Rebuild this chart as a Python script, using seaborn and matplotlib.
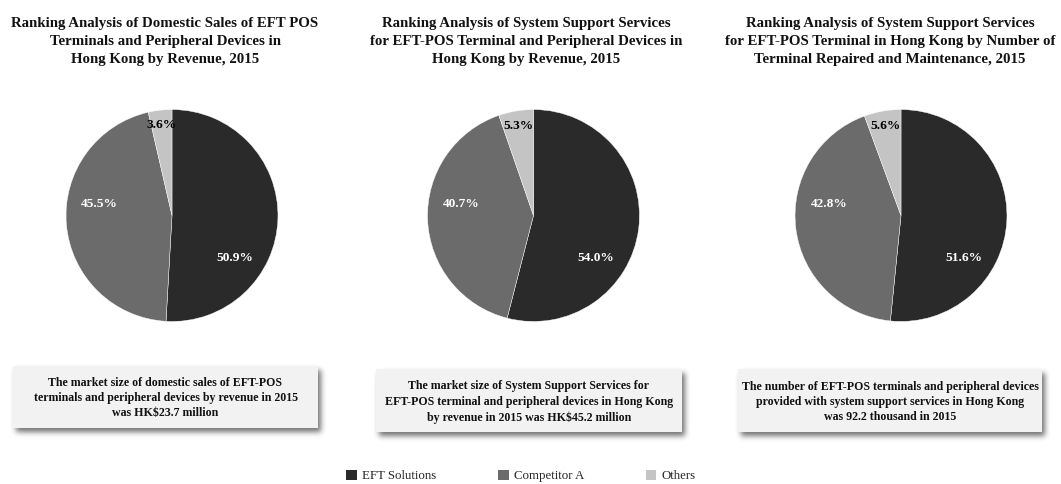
import numpy as np
import matplotlib
matplotlib.use('Agg')
import matplotlib.pyplot as plt
import seaborn as sns
from matplotlib.patches import Rectangle, Patch

# ---------------- data ----------------
categories = ['EFT Solutions', 'Competitor A', 'Others']
sales_revenue_share = [50.9, 45.5, 3.6]
support_revenue_share = [54.0, 40.7, 5.3]
support_units_share = [51.6, 42.8, 5.6]

titles = [
    'Ranking Analysis of Domestic Sales of EFT POS\nTerminals and Peripheral Devices in\nHong Kong by Revenue, 2015',
    'Ranking Analysis of System Support Services\nfor EFT-POS Terminal and Peripheral Devices in\nHong Kong by Revenue, 2015',
    'Ranking Analysis of System Support Services\nfor EFT-POS Terminal in Hong Kong by Number of\nTerminal Repaired and Maintenance, 2015',
]
notes = [
    'The market size of domestic sales of EFT-POS\nterminals and peripheral devices by revenue in 2015\nwas HK$23.7 million',
    'The market size of System Support Services for\nEFT-POS terminal and peripheral devices in Hong Kong\nby revenue in 2015 was HK$45.2 million',
    'The number of EFT-POS terminals and peripheral devices\nprovided with system support services in Hong Kong\nwas 92.2 thousand in 2015',
]
series = [sales_revenue_share, support_revenue_share, support_units_share]

# ---------------- style ----------------
sns.set_theme(style='white')
plt.rcParams['font.family'] = ['Liberation Serif', 'DejaVu Serif']
palette = sns.color_palette(['#2a2a2a', '#6b6b6b', '#c4c4c4'])

W, H = 1061, 484
fig = plt.figure(figsize=(W / 100, H / 100), dpi=100)
fig.patch.set_facecolor('white')

bg = fig.add_axes([0, 0, 1, 1])
bg.set_axis_off()

pie_cx = [172, 533.5, 901]
pie_cy = 215.5
R = 106.5
title_x = [165, 526, 890]
title_y = 41
boxes = [(13, 366, 318, 428), (376, 369, 682, 432), (738, 369, 1042, 432)]
note_y = [398, 402, 402]

label_style = {
    'EFT Solutions': dict(angle=-34, dist=0.71, color='white'),
    'Competitor A': dict(angle=171, dist=0.69, color='white'),
    'Others': dict(angle=None, dist=0.86, color='black'),
}


def gaussian_blur(m, sigma):
    r = int(3 * sigma)
    x = np.arange(-r, r + 1)
    k = np.exp(-x ** 2 / (2 * sigma ** 2))
    k /= k.sum()
    m = np.apply_along_axis(lambda v: np.convolve(v, k, mode='same'), 0, m)
    m = np.apply_along_axis(lambda v: np.convolve(v, k, mode='same'), 1, m)
    return m


def shadow(x0, y0, x1, y1, dx=3, dy=4, sigma=2.8, pad=16, strength=0.55):
    bw, bh = int(x1 - x0), int(y1 - y0)
    w, h = bw + 2 * pad, bh + 2 * pad
    m = np.zeros((h, w))
    m[pad + dy:pad + dy + bh, pad + dx:pad + dx + bw] = 1.0
    m = gaussian_blur(m, sigma)
    rgba = np.zeros((h, w, 4))
    rgba[..., 3] = m * strength
    bg.imshow(rgba, extent=(x0 - pad, x0 - pad + w, y0 - pad + h, y0 - pad),
              interpolation='bilinear', zorder=1)


for i in range(3):
    # title
    bg.text(title_x[i], title_y, titles[i], ha='center', va='center',
            fontsize=10.7, fontweight='bold', linespacing=1.5, color='#111111')
    # note box
    x0, y0, x1, y1 = boxes[i]
    shadow(x0, y0, x1, y1)
    bg.add_patch(Rectangle((x0, y0), x1 - x0, y1 - y0, facecolor='#f2f2f2',
                           edgecolor='none', zorder=2))
    bg.text((x0 + x1) / 2, note_y[i], notes[i], ha='center', va='center',
            fontsize=8.6, fontweight='bold', linespacing=1.36, color='#111111', zorder=3)

bg.set_xlim(0, W)
bg.set_ylim(H, 0)
bg.set_aspect('auto')

for i, vals in enumerate(series):
    cx = pie_cx[i]
    ax = fig.add_axes([(cx - R) / W, (H - pie_cy - R) / H, 2 * R / W, 2 * R / H])
    wedges, _ = ax.pie(vals, colors=palette, startangle=90, counterclock=False,
                       wedgeprops=dict(edgecolor='white', linewidth=0.3))
    ax.set_xlim(-1.005, 1.005)
    ax.set_ylim(-1.005, 1.005)
    ax.set_aspect('equal')
    for w, v, cat in zip(wedges, vals, categories):
        st = label_style[cat]
        ang = st['angle'] if st['angle'] is not None else (w.theta1 + w.theta2) / 2
        a = np.deg2rad(ang)
        ax.text(st['dist'] * np.cos(a), st['dist'] * np.sin(a), f'{v:.1f}%',
                ha='center', va='center', fontsize=9.6, fontweight='bold', color=st['color'])

handles = [Patch(facecolor=c, edgecolor='none', label=cat) for c, cat in zip(palette, categories)]
fig.legend(handles=handles, loc='center', bbox_to_anchor=(521 / W, 1 - 476 / H), ncol=3,
           frameon=False, fontsize=9.3, handlelength=0.8, handleheight=0.8,
           handletextpad=0.4, columnspacing=4.8, borderpad=0)

fig.savefig('out.png', dpi=100)
